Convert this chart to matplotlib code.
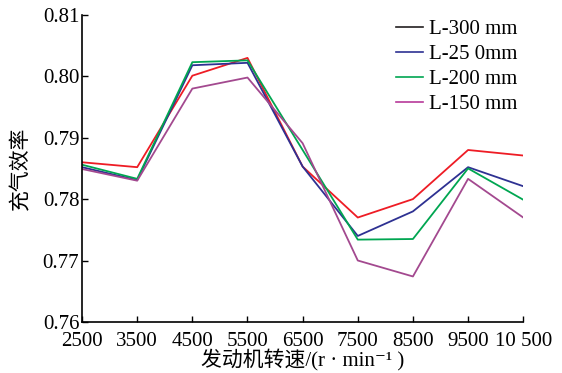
import matplotlib
matplotlib.use('Agg')
import matplotlib.pyplot as plt
from matplotlib.lines import Line2D

plt.rcParams['font.family'] = ['Liberation Serif', 'Noto Sans CJK SC', 'DejaVu Serif']

# engine speed (r/min)
speed = [2500, 3500, 4500, 5500, 6500, 7500, 8500, 9500, 10500]
tick_labels = ['2500', '3500', '4500', '5500', '6500', '7500', '8500', '9500', '10 500']

# charging efficiency for each intake length
eff_300 = [0.7860, 0.7852, 0.8001, 0.8030, 0.7853, 0.7770, 0.7800, 0.7880, 0.7871]
eff_250 = [0.7852, 0.7831, 0.8018, 0.8022, 0.7853, 0.7740, 0.7780, 0.7852, 0.7821]
eff_200 = [0.7856, 0.7833, 0.8023, 0.8026, 0.7880, 0.7734, 0.7735, 0.7850, 0.7799]
eff_150 = [0.7849, 0.7830, 0.7980, 0.7998, 0.7891, 0.7700, 0.7674, 0.7833, 0.7770]

names = ['L-300 mm', 'L-25 0mm', 'L-200 mm', 'L-150 mm']
line_colors = ['#ee1c25', '#2e3192', '#00a651', '#a3498f']
legend_colors = ['#231f20', '#2e3192', '#00a651', '#b8399a']

fig = plt.figure(figsize=(5.62, 3.73), dpi=100)
ax = fig.add_axes([0.146, 0.137, 0.785, 0.823])

for ys, c in zip([eff_300, eff_250, eff_200, eff_150], line_colors):
    ax.plot(speed, ys, color=c, lw=1.3)

handles = [Line2D([], [], color=c, lw=1.2) for c in legend_colors]
ax.legend(handles, names, loc='upper right', bbox_to_anchor=(1.03, 1.045),
          frameon=False, fontsize=15, handlelength=1.3, handletextpad=0.3,
          labelspacing=0.25)

ax.set_xlim(2500, 10500)
ax.set_ylim(0.76, 0.81)
ax.set_xticks(speed)
ax.set_xticklabels(tick_labels)
ax.set_yticks([0.76, 0.77, 0.78, 0.79, 0.80, 0.81])
ax.set_yticklabels(['0.76', '0.77', '0.78', '0.79', '0.80', '0.81'])
ax.tick_params(direction='in', length=4, width=1, labelsize=15, pad=2)
ax.tick_params(axis='x', pad=7)
for s in ['top', 'right']:
    ax.spines[s].set_visible(False)
for s in ['left', 'bottom']:
    ax.spines[s].set_linewidth(1.2)

ax.set_xlabel('发动机转速/(r · min⁻¹ )', fontsize=15, labelpad=-1)
ax.set_ylabel('充气效率', fontsize=15, labelpad=8)

fig.savefig('out.png', dpi=100)
